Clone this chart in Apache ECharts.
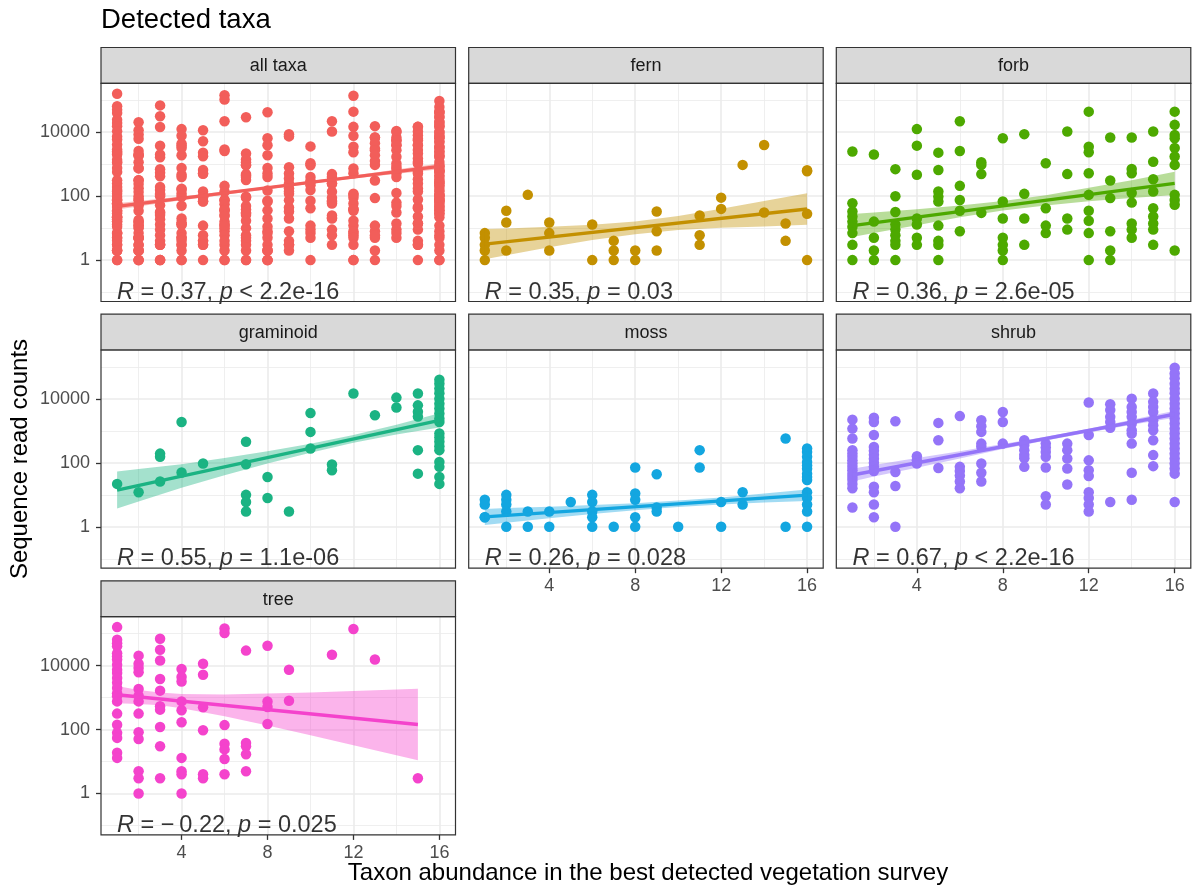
<!DOCTYPE html>
<html><head><meta charset="utf-8">
<script src="https://cdn.jsdelivr.net/npm/echarts@6/dist/echarts.min.js"></script>
<style>html,body{margin:0;padding:0;background:#fff}#c{width:1194px;height:892px}</style>
</head><body><div id="c"></div>
<script>
const FONT = '"Liberation Sans", Arial, Helvetica, sans-serif';

const panelNames = ['all taxa', 'fern', 'forb', 'graminoid', 'moss', 'shrub', 'tree'];
const panelColors = ['#F25E5A', '#C39000', '#4DA900', '#1BB383', '#13A6E0', '#9474F8', '#F443CC'];

const xMajorTicks = [4, 8, 12, 16];
const xMinorTicks = [2, 6, 10, 14];
const yMajorTicks = [1, 100, 10000];
const yMinorTicks = [0.1, 10, 1000, 100000];
const xRange = [0.25, 16.75];
const yRangeLog10 = [-1.294, 5.53];

// points: [abundance, [read counts ...]]
const fernPoints = [
  [1, [7, 5, 3, 2, 1]], [2, [35, 15, 2]], [3, [110]], [4, [15, 7, 2]], [6, [13, 1]],
  [7, [4, 2, 1]], [8, [2, 1]], [9, [33, 8, 2]], [11, [25, 6, 3]], [12, [90, 40]],
  [13, [950]], [14, [4000, 31]], [15, [14, 4]], [16, [650, 600, 28, 1]]
];
const forbPoints = [
  [1, [2500, 60, 33, 23, 16, 11, 7, 3, 1]], [2, [2000, 16, 5, 2, 1]],
  [3, [700, 100, 32, 13, 9, 6, 4, 3, 1]], [4, [12500, 3800, 470, 20, 13, 5, 3]],
  [5, [2300, 660, 140, 97, 68, 12, 4, 3, 1]], [6, [22000, 2600, 210, 76, 35, 8]],
  [7, [1150, 950, 490, 30]], [8, [6500, 68, 20, 5, 3, 2, 1]], [9, [8700, 118, 20, 3]],
  [10, [1070, 42, 12, 7]], [11, [10500, 490, 20, 9]],
  [12, [44000, 3500, 2360, 520, 110, 35, 17, 7, 1]], [13, [6800, 310, 87, 8, 2, 1]],
  [14, [6800, 710, 520, 125, 63, 14, 9, 5]], [15, [10500, 1200, 340, 140, 42, 23, 14, 9, 3]],
  [16, [44000, 17000, 8200, 6500, 3200, 1750, 950, 110, 76, 54, 2]]
];
const graminoidPoints = [
  [1, [22]], [2, [12]], [3, [195, 155, 26]], [4, [1900, 50]], [5, [95]],
  [7, [455, 91, 10, 6, 3]], [8, [36, 8]], [9, [3]], [10, [3600, 930, 280]], [11, [89, 59]],
  [12, [14700]], [13, [3100]], [14, [11000, 5400]], [15, [14700, 6300, 4000, 2800, 250, 46]],
  [16, [40000, 30000, 21000, 15000, 10200, 7100, 5000, 3500, 2450, 1900, 830, 620, 455, 330, 250, 107, 75, 36, 22]]
];
const mossPoints = [
  [1, [7, 5, 2, 2]], [2, [10, 7, 5, 3, 1]], [3, [3, 1]], [4, [3, 1]], [5, [6]],
  [6, [10, 6, 3, 2, 1]], [7, [1]], [8, [72, 11, 7, 2, 1]], [9, [44, 4, 3]], [10, [1]],
  [11, [250, 72]], [12, [6, 1]], [13, [12, 5]], [15, [580, 1]],
  [16, [280, 220, 155, 107, 83, 66, 46, 36, 29, 12, 8, 5, 3, 1]]
];
const shrubPoints = [
  [1, [2250, 1180, 575, 247, 195, 155, 120, 96, 75, 59, 46, 36, 29, 22, 16, 4]],
  [2, [2600, 1900, 740, 316, 240, 178, 135, 100, 75, 56, 18, 12, 5, 2]],
  [3, [2000, 52, 19, 1]], [4, [162, 120, 96]], [5, [1780, 510, 69]],
  [6, [2900, 75, 56, 40, 26, 16]], [7, [2150, 1400, 930, 400, 320, 96, 49, 26]],
  [8, [3900, 1900, 400]], [9, [510, 360, 250, 178, 140, 75]],
  [10, [400, 300, 220, 155, 72, 9, 5]], [11, [400, 250, 137, 67, 21]],
  [12, [7700, 740, 120, 59, 39, 12, 8, 5, 3]], [13, [6800, 4500, 2750, 1900, 1260, 6]],
  [14, [10200, 5600, 3900, 2750, 1700, 1050, 830, 400, 49, 7]],
  [15, [14700, 8100, 5600, 3900, 2150, 1500, 1050, 510, 175, 79]],
  [16, [95000, 62000, 44000, 30000, 21000, 15000, 10200, 7100, 5000, 3500, 2450, 1700, 1180, 830, 575, 400, 280, 195, 137, 96, 67, 46, 6]]
];
const treePoints = [
  [1, [160000, 65000, 50000, 40000, 24500, 19500, 15500, 10700, 7400, 5900, 4100, 2900, 2000, 1380, 1100, 760, 316, 141, 79, 55, 19, 13]],
  [2, [20500, 11500, 8500, 6200, 1860, 1150, 760, 316, 83, 51, 5, 3, 1]],
  [3, [69000, 31500, 14500, 3800, 1650, 540, 420, 120, 30, 3]],
  [4, [7800, 4400, 3200, 760, 400, 170, 13, 5, 4, 1]],
  [5, [11500, 5200, 500, 95, 4, 3]], [6, [144000, 105000, 138, 36, 24, 12, 4]],
  [7, [29500, 38, 30, 17, 5]], [8, [42000, 760, 510, 150]], [9, [7400, 800]],
  [11, [22000]], [12, [139000]], [13, [15500]], [15, [3]]
];
// "all taxa" is the union of every growth form
const allPoints = [].concat(fernPoints, forbPoints, graminoidPoints, mossPoints, shrubPoints, treePoints);

// fitted lines [abundance, log10 reads]
const allFit = [[1, 1.68], [16, 2.93]];
const fernFit = [[1, 0.50], [16, 1.60]];
const forbFit = [[1, 1.08], [16, 2.40]];
const graminoidFit = [[1, 1.15], [16, 3.33]];
const mossFit = [[1, 0.31], [16, 0.99]];
const shrubFit = [[1, 1.62], [16, 3.52]];
const treeFit = [[1, 3.09], [15, 2.16]];

// confidence bands [abundance, lower log10, upper log10]
const allBand = [[1, 1.58, 1.78], [4, 1.87, 1.99], [8, 2.22, 2.30], [12, 2.55, 2.65], [16, 2.84, 3.02]];
const fernBand = [[1, 0.03, 0.97], [2, 0.15, 0.99], [4, 0.40, 1.04], [6, 0.63, 1.11], [8, 0.81, 1.21], [10, 0.94, 1.38], [12, 1.01, 1.61], [14, 1.05, 1.85], [16, 1.11, 2.09]];
const forbBand = [[1, 0.72, 1.44], [2, 0.85, 1.49], [4, 1.09, 1.59], [6, 1.34, 1.71], [8, 1.55, 1.85], [10, 1.71, 2.03], [12, 1.84, 2.26], [14, 1.94, 2.50], [16, 2.04, 2.76]];
const graminoidBand = [[1, 0.57, 1.73], [2, 0.79, 1.81], [4, 1.22, 1.96], [6, 1.61, 2.15], [8, 1.98, 2.36], [10, 2.32, 2.60], [12, 2.63, 2.87], [14, 2.89, 3.19], [16, 3.11, 3.55]];
const mossBand = [[1, 0.06, 0.56], [2, 0.13, 0.59], [4, 0.27, 0.63], [6, 0.40, 0.68], [8, 0.52, 0.74], [10, 0.62, 0.82], [12, 0.70, 0.92], [14, 0.76, 1.04], [16, 0.81, 1.17]];
const shrubBand = [[1, 1.42, 1.82], [2, 1.57, 1.93], [4, 1.85, 2.15], [6, 2.14, 2.36], [8, 2.43, 2.59], [10, 2.70, 2.82], [12, 2.95, 3.07], [14, 3.19, 3.35], [16, 3.41, 3.63]];
const treeBand = [[1, 2.82, 3.36], [2, 2.80, 3.24], [3, 2.76, 3.16], [4, 2.67, 3.11], [6, 2.42, 3.10], [8, 2.13, 3.13], [10, 1.82, 3.16], [12, 1.51, 3.21], [15, 1.04, 3.28]];

// correlation labels
const corR = ['0.37', '0.35', '0.36', '0.55', '0.26', '0.67', '\u2212\u20090.22'];
const corP = ['< 2.2e-16', '= 0.03', '= 2.6e-05', '= 1.1e-06', '= 0.028', '< 2.2e-16', '= 0.025'];
const corLabelAt = [1, 0.1]; // abundance, reads

const panelPoints = [allPoints, fernPoints, forbPoints, graminoidPoints, mossPoints, shrubPoints, treePoints];
const panelFits = [allFit, fernFit, forbFit, graminoidFit, mossFit, shrubFit, treeFit];
const panelBands = [allBand, fernBand, forbBand, graminoidBand, mossBand, shrubBand, treeBand];

// layout (px)
const colLeft = [101, 468.7, 836.3];
const rowTop = [83.3, 350, 616.7];
const panelW = 354.5, panelH = 218.2, stripH = 35.8;

const lg = v => Math.log10(v);
const grids = [], xAxes = [], yAxes = [], series = [], graphics = [];

panelNames.forEach((name, i) => {
  const col = i % 3, row = Math.floor(i / 3);
  const left = colLeft[col], top = rowTop[row];
  const color = panelColors[i];
  const showX = (i >= 4);
  const showY = (col === 0);
  grids.push({left: left, top: top, width: panelW, height: panelH, show: true, backgroundColor: '#fff', borderWidth: 0, containLabel: false});
  const tickStyle = {color: '#333333', width: 1.3};
  xAxes.push({
    type: 'value', gridIndex: i, min: xRange[0], max: xRange[1], position: 'bottom',
    axisLine: {show: false, onZero: false},
    axisTick: {show: showX, customValues: xMajorTicks, length: 5, lineStyle: tickStyle},
    axisLabel: {show: showX, customValues: xMajorTicks, fontSize: 18, color: '#4D4D4D', fontFamily: FONT, margin: 9},
    splitLine: {show: true, lineStyle: {color: '#EBEBEB', width: 1.6}}
  });
  xAxes.push({
    type: 'value', gridIndex: i, min: xRange[0], max: xRange[1], position: 'top',
    axisLine: {show: false, onZero: false},
    axisTick: {show: false, customValues: xMinorTicks},
    axisLabel: {show: false, customValues: xMinorTicks},
    splitLine: {show: true, lineStyle: {color: '#EBEBEB', width: 0.8}}
  });
  yAxes.push({
    type: 'value', gridIndex: i, min: yRangeLog10[0], max: yRangeLog10[1], position: 'left',
    axisLine: {show: false, onZero: false},
    axisTick: {show: showY, customValues: yMajorTicks.map(lg), length: 5, lineStyle: tickStyle},
    axisLabel: {show: showY, customValues: yMajorTicks.map(lg), fontSize: 18, color: '#4D4D4D', fontFamily: FONT, margin: 11,
      formatter: v => String(Math.round(Math.pow(10, v)))},
    splitLine: {show: true, lineStyle: {color: '#EBEBEB', width: 1.6}}
  });
  yAxes.push({
    type: 'value', gridIndex: i, min: yRangeLog10[0], max: yRangeLog10[1], position: 'right',
    axisLine: {show: false, onZero: false},
    axisTick: {show: false, customValues: yMinorTicks.map(lg)},
    axisLabel: {show: false, customValues: yMinorTicks.map(lg)},
    splitLine: {show: true, lineStyle: {color: '#EBEBEB', width: 0.8}}
  });

  const pts = [];
  panelPoints[i].forEach(g => g[1].forEach(r => pts.push([g[0], lg(r)])));
  series.push({
    type: 'scatter', xAxisIndex: 2 * i, yAxisIndex: 2 * i, data: pts, symbolSize: 10.5,
    itemStyle: {color: color, opacity: 1}, silent: true, z: 2
  });
  const band = panelBands[i];
  series.push({
    type: 'custom', xAxisIndex: 2 * i, yAxisIndex: 2 * i, data: band, silent: true, z: 3, clip: true,
    encode: {x: 0, y: [1, 2]},
    renderItem: (params, api) => {
      if (params.dataIndex !== 0) return null;
      const up = band.map(b => api.coord([b[0], b[2]]));
      const lo = band.slice().reverse().map(b => api.coord([b[0], b[1]]));
      return {type: 'polygon', shape: {points: up.concat(lo)}, style: {fill: color, opacity: 0.4}};
    }
  });
  series.push({
    type: 'line', xAxisIndex: 2 * i, yAxisIndex: 2 * i, data: panelFits[i], showSymbol: false, silent: true, z: 4,
    lineStyle: {color: color, width: 3.4}
  });
  series.push({
    type: 'scatter', xAxisIndex: 2 * i, yAxisIndex: 2 * i, data: [[corLabelAt[0], lg(corLabelAt[1])]], symbolSize: 0, silent: true, z: 6,
    label: {show: true, position: 'right', distance: 0, fontSize: 23.5, color: '#000', fontFamily: FONT,
      formatter: '{i|R} = ' + corR[i] + ', {i|p} ' + corP[i],
      rich: {i: {fontStyle: 'italic', fontSize: 23.5, color: '#000', fontFamily: FONT}}}
  });

  // strip + panel border
  graphics.push({type: 'rect', shape: {x: left, y: top - stripH, width: panelW, height: stripH},
    style: {fill: '#D9D9D9', stroke: '#333333', lineWidth: 1.2}, z: 10, silent: true});
  graphics.push({type: 'text', x: left + panelW / 2, y: top - stripH / 2 + 1,
    style: {text: name, fontSize: 18, fontFamily: FONT, fill: '#1A1A1A', align: 'center', verticalAlign: 'middle'}, z: 11, silent: true});
  graphics.push({type: 'rect', shape: {x: left, y: top, width: panelW, height: panelH},
    style: {fill: null, stroke: '#333333', lineWidth: 1.2}, z: 10, silent: true});
});

graphics.push({type: 'text', x: 101, y: 20.5,
  style: {text: 'Detected taxa', fontSize: 27.5, fontFamily: FONT, fill: '#000', align: 'left', verticalAlign: 'middle'}, z: 11});
graphics.push({type: 'text', x: 648, y: 873,
  style: {text: 'Taxon abundance in the best detected vegetation survey', fontSize: 24, fontFamily: FONT, fill: '#000', align: 'center', verticalAlign: 'middle'}, z: 11});
graphics.push({type: 'text', x: 20, y: 459, rotation: Math.PI / 2,
  style: {text: 'Sequence read counts', fontSize: 24, fontFamily: FONT, fill: '#000', align: 'center', verticalAlign: 'middle'}, z: 11});

const chart = echarts.init(document.getElementById('c'), null, {renderer: 'canvas'});
chart.setOption({
  animation: false,
  backgroundColor: '#fff',
  grid: grids, xAxis: xAxes, yAxis: yAxes, series: series, graphic: graphics
});
</script></body></html>
